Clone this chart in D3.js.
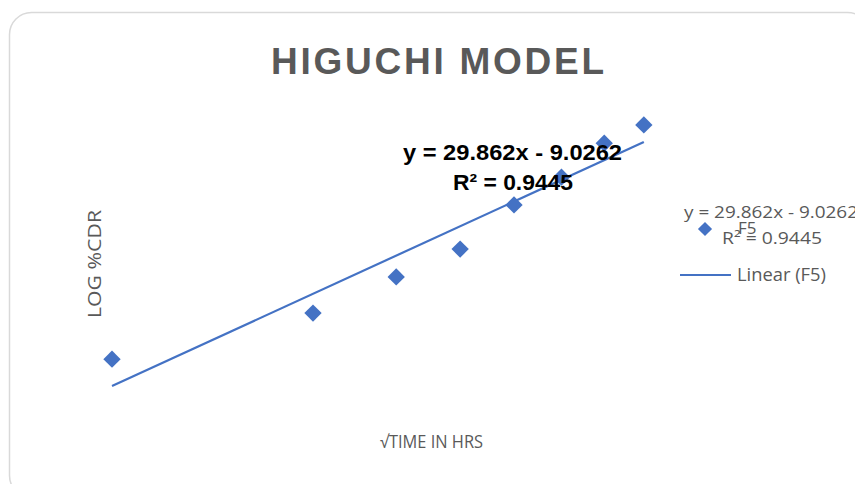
<!DOCTYPE html>
<html>
<head>
<meta charset="utf-8">
<script src="https://cdn.jsdelivr.net/npm/d3@7"></script>
<style>
  body { margin: 0; background: #fff; }
  svg { display: block; }
</style>
</head>
<body>
<div id="chart"></div>
<script>
// sqrt(time) values and log %CDR
const sqrtTime = [0, 1, 1.414, 1.732, 2, 2.236, 2.449, 2.646];
const logCdr = [-0.3, 14.6, 26.3, 35.3, 49.6, 58.6, 69.6, 75.5];
// trendline coefficients as printed on the chart
const slope = 29.862;
const intercept = -9.0262;
const eqText = "y = 29.862x - 9.0262";
const r2Text = "R² = 0.9445";

const W = 855, H = 484;
const blue = "#4472c4", grey = "#595959";

const svg = d3.select("#chart").append("svg")
  .attr("width", W).attr("height", H);

// chart area border (runs off the right and bottom edges)
svg.append("rect")
  .attr("x", 9.5).attr("y", 12.5)
  .attr("width", 860).attr("height", 485)
  .attr("rx", 22)
  .attr("fill", "#fff")
  .attr("stroke", "#d9d9d9")
  .attr("stroke-width", 1.5);

// title
svg.append("text")
  .attr("x", 271).attr("y", 74)
  .attr("textLength", 333).attr("lengthAdjust", "spacing")
  .style("font", "bold 37px 'Liberation Sans Narrow', 'Liberation Sans', sans-serif")
  .attr("fill", grey)
  .text("HIGUCHI MODEL");

// scales (axes are hidden in the original)
const x = d3.scaleLinear().domain([0, 3]).range([112, 715]);
const y = d3.scaleLinear().domain([-20, 80]).range([420, 111]);

// trendline
const x0 = d3.min(sqrtTime), x1 = d3.max(sqrtTime);
svg.append("line")
  .attr("x1", x(x0)).attr("y1", y(slope * x0 + intercept))
  .attr("x2", x(x1)).attr("y2", y(slope * x1 + intercept))
  .attr("stroke", blue).attr("stroke-width", 2.2);

// points
const diamond = d3.symbol().type(d3.symbolSquare).size(150);
svg.append("g")
  .selectAll("path")
  .data(sqrtTime.map((t, i) => [t, logCdr[i]]))
  .join("path")
  .attr("d", diamond)
  .attr("transform", (d) => `translate(${x(d[0])},${y(d[1])}) rotate(45)`)
  .attr("fill", blue);

// equation label in plot
const eq = svg.append("g")
  .style("font", "bold 22px 'Liberation Sans Narrow', 'Liberation Sans', sans-serif")
  .attr("fill", "#000");
eq.append("text").attr("x", 403).attr("y", 160)
  .attr("textLength", 219).attr("lengthAdjust", "spacingAndGlyphs")
  .text(eqText);
eq.append("text").attr("x", 453).attr("y", 190)
  .attr("textLength", 120).attr("lengthAdjust", "spacingAndGlyphs")
  .text(r2Text);

// axis titles
svg.append("text")
  .attr("transform", "translate(101,264) rotate(-90)")
  .attr("text-anchor", "middle")
  .style("font", "18px 'Open Sans', sans-serif")
  .attr("fill", grey)
  .attr("textLength", 108).attr("lengthAdjust", "spacingAndGlyphs")
  .text("LOG %CDR");
svg.append("text")
  .attr("x", 380).attr("y", 448)
  .style("font", "18px 'Open Sans', sans-serif")
  .attr("fill", grey)
  .attr("textLength", 103).attr("lengthAdjust", "spacingAndGlyphs")
  .text("√TIME IN HRS");

// legend
const lg = svg.append("g")
  .style("font", "16px 'Open Sans', sans-serif")
  .attr("fill", grey);
lg.append("path")
  .attr("d", d3.symbol().type(d3.symbolSquare).size(100))
  .attr("transform", "translate(705,229) rotate(45)")
  .attr("fill", blue);
lg.append("text").attr("x", 738).attr("y", 234)
  .style("font-size", "17px").text("F5");
lg.append("text").attr("x", 684).attr("y", 218)
  .attr("textLength", 174).attr("lengthAdjust", "spacingAndGlyphs")
  .text(eqText);
lg.append("text").attr("x", 722).attr("y", 244)
  .attr("textLength", 100).attr("lengthAdjust", "spacingAndGlyphs")
  .text(r2Text);
lg.append("line")
  .attr("x1", 680).attr("x2", 731).attr("y1", 275).attr("y2", 275)
  .attr("stroke", blue).attr("stroke-width", 2);
lg.append("text").attr("x", 737).attr("y", 281)
  .style("font-size", "18px")
  .attr("textLength", 89).attr("lengthAdjust", "spacingAndGlyphs")
  .text("Linear (F5)");
</script>
</body>
</html>
